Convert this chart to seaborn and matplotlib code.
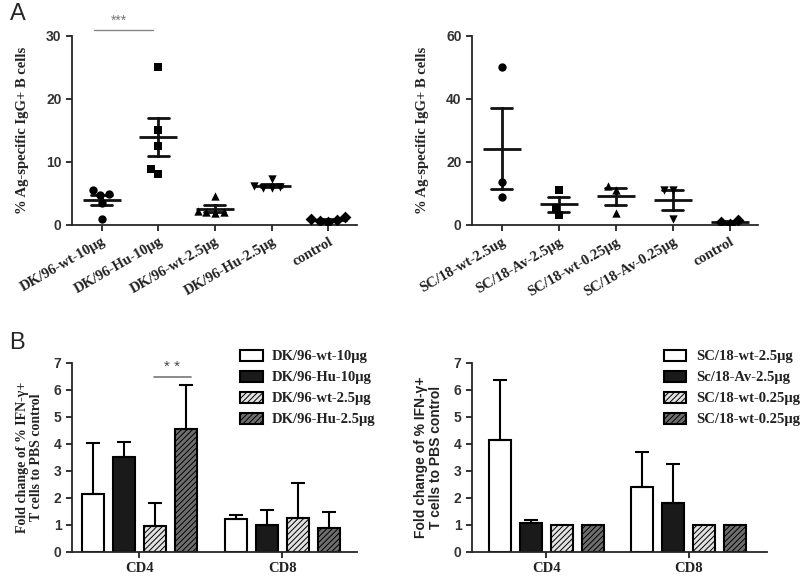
import matplotlib
matplotlib.use('Agg')
import matplotlib.pyplot as plt
from matplotlib.patches import Patch
import numpy as np
import pandas as pd
import seaborn as sns

# panel A, left: DK/96 groups (individual mice)
dk_groups = ['DK/96-wt-10μg', 'DK/96-Hu-10μg', 'DK/96-wt-2.5μg', 'DK/96-Hu-2.5μg', 'control']
dk_wt10 = [5.6, 4.8, 4.9, 3.5, 1.0]
dk_hu10 = [25.0, 15.0, 12.5, 8.9, 8.1]
dk_wt25 = [4.6, 2.0, 1.9, 2.2, 2.1]
dk_hu25 = [7.3, 6.2, 5.8, 6.0, 5.9]
dk_ctrl = [0.8, 0.6, 1.2, 0.5, 0.9]

# panel A, right: SC/18 groups
sc_groups = ['SC/18-wt-2.5ug', 'SC/18-Av-2.5μg', 'SC/18-wt-0.25μg', 'SC/18-Av-0.25μg', 'control']
sc_wt25 = [50.0, 13.7, 8.9]
sc_av25 = [11.0, 5.5, 3.0]
sc_wt025 = [12.4, 11.0, 3.8]
sc_av025 = [11.0, 11.0, 1.8]
sc_ctrl = [0.4, 0.9, 1.4]

# panel B: fold change bars (mean and upper error)
cells = ['CD4', 'CD8']
dk_bar_labels = ['DK/96-wt-10μg', 'DK/96-Hu-10μg', 'DK/96-wt-2.5μg', 'DK/96-Hu-2.5μg']
dk_cd4_mean = [2.15, 3.52, 0.95, 4.56]
dk_cd4_err = [1.89, 0.54, 0.86, 1.61]
dk_cd8_mean = [1.23, 1.00, 1.26, 0.90]
dk_cd8_err = [0.15, 0.54, 1.30, 0.59]

sc_bar_labels = ['SC/18-wt-2.5μg', 'Sc/18-Av-2.5μg', 'SC/18-wt-0.25μg', 'SC/18-wt-0.25μg']
sc_cd4_mean = [4.14, 1.07, 1.00, 1.00]
sc_cd4_err = [2.24, 0.13, 0.0, 0.0]
sc_cd8_mean = [2.40, 1.83, 1.00, 1.00]
sc_cd8_err = [1.32, 1.44, 0.0, 0.0]

markers = ['o', 's', '^', 'v', 'D']
bar_colors = ['white', '#1a1a1a', '#e2e2e2', '#6e6e6e']
bar_hatches = [None, None, '//////', '//////']

sns.set_style('ticks')
plt.rcParams['font.family'] = ['Liberation Serif', 'DejaVu Serif']
plt.rcParams['hatch.linewidth'] = 0.7
plt.rcParams['axes.linewidth'] = 1.3

SERIF = ['Liberation Serif', 'DejaVu Serif']
SANS = ['Liberation Sans', 'DejaVu Sans']


def style_axis(ax):
    sns.despine(ax=ax)
    ax.tick_params(axis='both', direction='out', length=4, width=1.3, color='#222222')
    for lab in ax.get_yticklabels():
        lab.set_fontfamily(SANS)
        lab.set_fontweight('bold')
        lab.set_fontsize(10)
        lab.set_color('#333333')


def dot_panel(ax, groups, values, ymax, step):
    df = pd.DataFrame({'group': np.repeat(groups, [len(v) for v in values]),
                       'value': np.concatenate(values)})
    for g, m in zip(groups, markers):
        sns.swarmplot(data=df[df['group'] == g], x='group', y='value', order=groups,
                      marker=m, color='black', size=6, ax=ax)
    sns.pointplot(data=df, x='group', y='value', order=groups, errorbar='se',
                  capsize=0.37, color='#111111', linestyle='none', marker='_',
                  markersize=28, markeredgewidth=2, err_kws={'linewidth': 2}, ax=ax)
    ax.set_ylim(0, ymax)
    ax.set_yticks(np.arange(0, ymax + 1, step))
    ax.set_xlim(-0.52, 4.5)
    ax.set_xlabel('')
    ax.set_ylabel('% Ag-specific IgG+ B cells', fontsize=10.5, fontweight='bold',
                  family=SERIF, labelpad=12, color='#222222')
    ax.set_xticks(range(len(groups)))
    ax.set_xticklabels(groups, rotation=30, ha='right', rotation_mode='anchor',
                       fontsize=10.5, fontweight='bold', family=SERIF, color='#222222')
    style_axis(ax)


def bar_panel(ax, cd4_mean, cd8_mean, cd4_err, cd8_err, labels, ylabel_family, leg_x):
    keys = ['g0', 'g1', 'g2', 'g3']
    df = pd.DataFrame({'cell': np.repeat(cells, 4), 'group': keys * 2,
                       'value': cd4_mean + cd8_mean})
    sns.barplot(data=df, x='cell', y='value', hue='group', hue_order=keys,
                palette=dict(zip(keys, bar_colors)), width=0.87, gap=0.29,
                edgecolor='black', linewidth=1.5, errorbar=None, legend=False,
                saturation=1, ax=ax)
    errs = [cd4_err, cd8_err]
    bar_conts = list(ax.containers)
    for i, cont in enumerate(bar_conts):
        for j, bar in enumerate(cont):
            if bar_hatches[i]:
                bar.set_hatch(bar_hatches[i])
            e = errs[j][i]
            if e > 0:
                x = bar.get_x() + bar.get_width() / 2
                ax.errorbar(x, bar.get_height(), yerr=[[0], [e]], fmt='none',
                            ecolor='black', elinewidth=1.5, capsize=5, capthick=1.5,
                            zorder=1)
    ax.set_ylim(0, 7)
    ax.set_yticks(range(8))
    ax.set_xlabel('')
    ax.set_ylabel('Fold change of % IFN-γ+\nT cells to PBS control', fontsize=10,
                  fontweight='bold', family=ylabel_family, labelpad=8,
                  linespacing=1.1, color='#222222')
    ax.set_xticks([0, 1])
    ax.set_xticklabels(cells, fontsize=10.5, fontweight='bold', family=SERIF, color='#222222')
    style_axis(ax)
    handles = [Patch(facecolor=c, edgecolor='black', hatch=h, linewidth=1.5, label=l)
               for c, h, l in zip(bar_colors, bar_hatches, labels)]
    leg = ax.legend(handles=handles, loc='upper left', bbox_to_anchor=(leg_x, 1.07),
                    frameon=False, handlelength=1.55, handleheight=0.8,
                    handletextpad=0.65, labelspacing=0.5, borderaxespad=0,
                    borderpad=0, prop={'family': SERIF, 'weight': 'bold', 'size': 10.5})
    for t in leg.get_texts():
        t.set_color('#222222')


fig = plt.figure(figsize=(8, 5.78), dpi=100)
axA1 = fig.add_axes([0.09, 0.611, 0.356, 0.327])
axA2 = fig.add_axes([0.59, 0.611, 0.3575, 0.327])
axB1 = fig.add_axes([0.09, 0.045, 0.356, 0.327])
axB2 = fig.add_axes([0.59, 0.045, 0.369, 0.327])

dot_panel(axA1, dk_groups, [dk_wt10, dk_hu10, dk_wt25, dk_hu25, dk_ctrl], 30, 10)
dot_panel(axA2, sc_groups, [sc_wt25, sc_av25, sc_wt025, sc_av025, sc_ctrl], 60, 20)
axA1.plot([-0.14, 0.91], [31.0, 31.0], color='#888888', lw=1, clip_on=False)
axA1.text(0.3, 31.2, '***', ha='center', va='bottom', fontsize=10, color='#777777',
          family=SANS)

bar_panel(axB1, dk_cd4_mean, dk_cd8_mean, dk_cd4_err, dk_cd8_err, dk_bar_labels, SERIF, 0.59)
bar_panel(axB2, sc_cd4_mean, sc_cd8_mean, sc_cd4_err, sc_cd8_err, sc_bar_labels, SANS, 0.65)
axB1.set_xlim(-0.47, 1.52)
axB2.set_xlim(-0.52, 1.55)
axB1.plot([0.105, 0.364], [6.48, 6.48], color='#777777', lw=1.2)
axB1.text(0.23, 6.58, '* *', ha='center', va='bottom', fontsize=11, color='#444444',
          family=SANS)

fig.text(0.012, 0.995, 'A', fontsize=17, family=SANS, va='top')
fig.text(0.012, 0.425, 'B', fontsize=17, family=SANS, va='top')

fig.savefig('out.png', dpi=100)
